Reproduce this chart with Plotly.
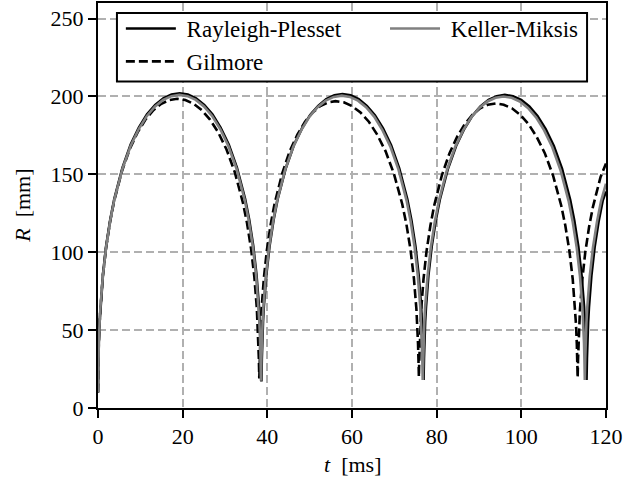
import plotly.graph_objects as go

# ---- data (t in ms, R in mm) ----
rp_t = [0, 0.10, 0.19, 0.39, 0.58, 1.16, 1.93, 2.90, 3.86, 5.79, 7.72, 9.65, 11.58, 13.51, 15.44, 17.37, 19.3,
        21.23, 23.16, 25.09, 27.02, 28.95, 30.88, 32.81, 34.74, 35.71, 36.67, 37.44, 38.02, 38.21, 38.41, 38.50, 38.6,
        38.70, 38.79, 38.98, 39.17, 39.75, 40.52, 41.47, 42.43, 44.35, 46.26, 48.18, 50.09, 52.01, 53.92, 55.84, 57.75,
        59.67, 61.58, 63.50, 65.41, 67.33, 69.24, 71.16, 73.07, 74.03, 74.99, 75.75, 76.33, 76.52, 76.71, 76.80, 76.9,
        77.00, 77.09, 77.28, 77.48, 78.05, 78.82, 79.78, 80.74, 82.66, 84.58, 86.50, 88.42, 90.34, 92.26, 94.18, 96.1,
        98.03, 99.96, 101.89, 103.82, 105.75, 107.68, 109.61, 111.54, 112.51, 113.47, 114.24, 114.82, 115.01, 115.21, 115.30, 115.4,
        115.50, 115.59, 115.78, 115.98, 116.55, 117.32, 118.28, 119.24, 120]
rp_r = [10, 31.9, 42.2, 55.6, 65.2, 85.4, 104.0, 121.0, 134.3, 154.3, 169.1, 180.0, 188.5, 194.5, 198.8, 201.2, 202,
        201.2, 198.8, 194.5, 188.5, 180.0, 169.1, 154.3, 134.3, 121.0, 104.0, 85.4, 65.2, 55.6, 42.2, 31.9, 17,
        31.8, 42.1, 55.4, 65.1, 85.2, 103.8, 120.7, 134.0, 153.9, 168.7, 179.5, 188.0, 194.0, 198.3, 200.7, 201.5,
        200.7, 198.3, 194.0, 188.0, 179.5, 168.7, 153.9, 134.0, 120.7, 103.8, 85.2, 65.1, 55.4, 42.1, 31.8, 18,
        31.8, 42.0, 55.3, 64.9, 85.0, 103.5, 120.4, 133.7, 153.6, 168.2, 179.1, 187.5, 193.6, 197.8, 200.2, 201,
        200.2, 197.8, 193.6, 187.5, 179.1, 168.2, 153.6, 133.7, 120.4, 103.5, 85.0, 64.9, 55.3, 42.0, 31.8, 18,
        31.7, 41.9, 55.1, 64.8, 84.8, 103.3, 120.1, 133.3, 139]

km_t = [0, 0.10, 0.19, 0.39, 0.58, 1.16, 1.93, 2.89, 3.85, 5.78, 7.70, 9.63, 11.55, 13.48, 15.40, 17.33, 19.25,
        21.18, 23.10, 25.03, 26.95, 28.88, 30.80, 32.73, 34.65, 35.61, 36.58, 37.35, 37.92, 38.12, 38.31, 38.40, 38.5,
        38.60, 38.69, 38.88, 39.07, 39.65, 40.41, 41.37, 42.32, 44.23, 46.14, 48.05, 49.96, 51.87, 53.78, 55.69, 57.6,
        59.51, 61.42, 63.33, 65.24, 67.15, 69.06, 70.97, 72.88, 73.84, 74.79, 75.55, 76.13, 76.32, 76.51, 76.61, 76.7,
        76.80, 76.89, 77.08, 77.27, 77.85, 78.61, 79.57, 80.52, 82.43, 84.34, 86.25, 88.16, 90.07, 91.98, 93.89, 95.8,
        97.72, 99.64, 101.56, 103.48, 105.40, 107.32, 109.24, 111.16, 112.12, 113.08, 113.85, 114.42, 114.62, 114.81, 114.90, 115.0,
        115.10, 115.19, 115.38, 115.57, 116.15, 116.91, 117.87, 118.82, 120]
km_r = [10, 31.8, 42.0, 55.3, 64.9, 85.0, 103.5, 120.4, 133.7, 153.6, 168.2, 179.1, 187.5, 193.6, 197.8, 200.2, 201,
        200.2, 197.8, 193.6, 187.5, 179.1, 168.2, 153.6, 133.7, 120.4, 103.5, 85.0, 64.9, 55.3, 42.0, 31.8, 17.5,
        31.7, 41.9, 55.1, 64.8, 84.8, 103.3, 120.1, 133.3, 153.2, 167.8, 178.6, 187.1, 193.1, 197.3, 199.7, 200.5,
        199.7, 197.3, 193.1, 187.1, 178.6, 167.8, 153.2, 133.3, 120.1, 103.3, 84.8, 64.8, 55.1, 41.9, 31.7, 18,
        31.6, 41.8, 55.0, 64.6, 84.6, 103.0, 119.8, 133.0, 152.8, 167.4, 178.2, 186.6, 192.6, 196.8, 199.2, 200,
        199.2, 196.8, 192.6, 186.6, 178.2, 167.4, 152.8, 133.0, 119.8, 103.0, 84.6, 64.6, 55.0, 41.8, 31.6, 18,
        31.5, 41.7, 54.9, 64.4, 84.4, 102.7, 119.5, 132.7, 144]

gil_t = [0, 0.09, 0.19, 0.37, 0.56, 1.12, 1.87, 2.81, 3.74, 5.61, 7.48, 9.35, 11.22, 13.09, 14.96, 16.83, 18.7,
         20.64, 22.58, 24.52, 26.46, 28.40, 30.34, 32.28, 34.22, 35.19, 36.16, 36.94, 37.52, 37.71, 37.91, 38.00, 38.1,
         38.19, 38.28, 38.46, 38.64, 39.18, 39.90, 40.80, 41.70, 43.50, 45.30, 47.10, 48.90, 50.70, 52.50, 54.30, 56.1,
         58.07, 60.04, 62.01, 63.98, 65.95, 67.92, 69.89, 71.86, 72.85, 73.83, 74.62, 75.21, 75.41, 75.60, 75.70, 75.8,
         75.89, 75.98, 76.16, 76.34, 76.89, 77.61, 78.52, 79.42, 81.23, 83.04, 84.85, 86.66, 88.47, 90.28, 92.09, 93.9,
         95.84, 97.78, 99.72, 101.66, 103.60, 105.54, 107.48, 109.42, 110.39, 111.36, 112.14, 112.72, 112.91, 113.11, 113.20, 113.3,
         113.39, 113.48, 113.66, 113.84, 114.38, 115.10, 116.00, 116.90, 118.70, 120]
gil_r = [10, 31.4, 41.5, 54.6, 64.1, 84.0, 102.2, 118.9, 132.0, 151.7, 166.1, 176.9, 185.2, 191.2, 195.3, 197.7, 198.5,
         197.7, 195.3, 191.2, 185.2, 176.9, 166.1, 151.7, 132.0, 118.9, 102.2, 84.0, 64.1, 54.6, 41.5, 31.4, 19,
         31.1, 41.2, 54.2, 63.6, 83.3, 101.5, 118.0, 131.0, 150.5, 164.9, 175.5, 183.8, 189.7, 193.8, 196.2, 197,
         196.2, 193.8, 189.7, 183.8, 175.5, 164.9, 150.5, 131.0, 118.0, 101.5, 83.3, 63.6, 54.2, 41.2, 31.1, 20,
         30.9, 40.9, 53.8, 63.1, 82.7, 100.7, 117.1, 130.0, 149.4, 163.6, 174.2, 182.4, 188.3, 192.4, 194.7, 195.5,
         194.7, 192.4, 188.3, 182.4, 174.2, 163.6, 149.4, 130.0, 117.1, 100.7, 82.7, 63.1, 53.8, 40.9, 30.9, 19.5,
         30.7, 40.5, 53.4, 62.7, 82.1, 99.9, 116.2, 129.0, 148.2, 157]

x_ticks = [0, 20, 40, 60, 80, 100, 120]
y_ticks = [0, 50, 100, 150, 200, 250]

FONT = "Liberation Serif, DejaVu Serif, Times New Roman, serif"
NB = "\u00a0"

fig = go.Figure()
fig.add_trace(go.Scatter(x=rp_t, y=rp_r, mode="lines", name=NB + "Rayleigh-Plesset",
                         line=dict(color="black", width=2.6), legendrank=1, legend="legend"))
fig.add_trace(go.Scatter(x=gil_t, y=gil_r, mode="lines", name=NB + "Gilmore",
                         line=dict(color="black", width=2.6, dash="9px,4px"), legendrank=2, legend="legend"))
fig.add_trace(go.Scatter(x=km_t, y=km_r, mode="lines", name=NB + "Keller-Miksis",
                         line=dict(color="#808080", width=2.6), legend="legend2"))

axis_common = dict(showline=True, linecolor="black", linewidth=2, mirror=True,
                   ticks="outside", ticklen=8, tickwidth=1.5, tickcolor="black",
                   showgrid=True, gridcolor="#b0b0b0", gridwidth=1.5, griddash="8px,4px",
                   zeroline=False, tickfont=dict(family=FONT, size=22, color="black"))

fig.update_xaxes(range=[0, 120], tickvals=x_ticks, ticklabeloverflow="allow", **axis_common)
fig.update_yaxes(range=[0, 260], tickvals=y_ticks, **axis_common)

legend_common = dict(orientation="v", yanchor="top", xanchor="left",
                     bgcolor="rgba(0,0,0,0)", borderwidth=0,
                     font=dict(family=FONT, size=23, color="black"), itemwidth=50)

fig.update_layout(
    width=624, height=487,
    margin=dict(l=98, r=16, t=1, b=79),
    plot_bgcolor="white", paper_bgcolor="white",
    font=dict(family=FONT, size=22, color="black"),
    showlegend=True,
    legend=dict(x=0.045, y=0.99, **legend_common),
    legend2=dict(x=0.565, y=0.99, **legend_common),
    shapes=[dict(type="rect", xref="paper", yref="paper", x0=0.0373, x1=0.9627, y0=0.8059, y1=0.9754,
                 line=dict(color="black", width=2), fillcolor="white", layer="above")],
    annotations=[
        dict(text="<i>t</i>" + NB + NB + "[ms]", xref="paper", yref="paper", x=0.5, y=-0.14,
             xanchor="center", yanchor="middle", showarrow=False,
             font=dict(family=FONT, size=22, color="black")),
        dict(text="<i>R</i>" + NB + NB + "[mm]", xref="paper", yref="paper", x=-0.149, y=0.5,
             xanchor="center", yanchor="middle", showarrow=False, textangle=-90,
             font=dict(family=FONT, size=22, color="black")),
    ],
)

fig.write_html("out.html")
